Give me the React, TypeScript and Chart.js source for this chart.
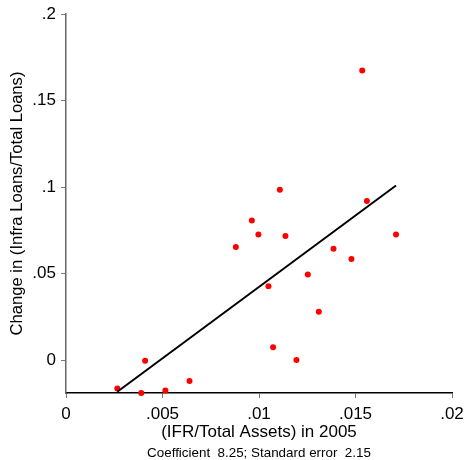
import React, { useEffect, useRef } from "react";
import { Chart, registerables } from "chart.js";

Chart.register(...registerables);

// Scatter points: x = IFR/Total Assets (2005), y = change in infra loans / total loans
const xValues = [
  0.00266, 0.0041, 0.0039, 0.00515, 0.0064, 0.0088, 0.00963, 0.00997, 0.01049,
  0.01073, 0.01108, 0.01137, 0.01194, 0.01253, 0.0131, 0.01386, 0.01479,
  0.01535, 0.01559, 0.0171,
];
const yValues = [
  -0.0164, -0.0004, -0.019, -0.0176, -0.0121, 0.0653, 0.0807, 0.0726, 0.0427,
  0.0075, 0.0984, 0.0717, 0.0, 0.0495, 0.0279, 0.0643, 0.0585, 0.1674, 0.0919,
  0.0726,
];

// Fitted line endpoints
const fitX = [0.00266, 0.0171];
const fitY = [-0.0183, 0.1009];

const xTicks = [0, 0.005, 0.01, 0.015, 0.02];
const xTickLabels = ["0", ".005", ".01", ".015", ".02"];
const yTicks = [0, 0.05, 0.1, 0.15, 0.2];
const yTickLabels = ["0", ".05", ".1", ".15", ".2"];

const xTitle = "(IFR/Total Assets) in 2005";
const yTitle = "Change in (Infra Loans/Total Loans)";
const note = "Coefficient  8.25; Standard error  2.15";

const FONT = "'Liberation Sans', Arial, sans-serif";

export default function App() {
  const ref = useRef<HTMLCanvasElement | null>(null);

  useEffect(() => {
    if (!ref.current) return;
    const notePlugin = {
      id: "note",
      afterDraw(chart: any) {
        const ctx = chart.ctx;
        const xs = chart.scales.x;
        ctx.save();
        ctx.font = `13.4px ${FONT}`;
        ctx.fillStyle = "#000";
        ctx.textAlign = "center";
        ctx.textBaseline = "middle";
        ctx.fillText(note, (xs.left + xs.right) / 2, 453);
        ctx.restore();
      },
    };
    const chart = new Chart(ref.current, {
      type: "scatter",
      data: {
        datasets: [
          {
            type: "scatter",
            data: xValues.map((x, i) => ({ x, y: yValues[i] })),
            backgroundColor: "#ff0000",
            borderColor: "#ff0000",
            pointRadius: 3,
            pointBorderWidth: 0,
            clip: false as any,
            order: 2,
          },
          {
            type: "line",
            data: fitX.map((x, i) => ({ x, y: fitY[i] })),
            borderColor: "#000",
            borderWidth: 2,
            pointRadius: 0,
            showLine: true,
            fill: false,
            clip: false as any,
            order: 1,
          } as any,
        ],
      },
      options: {
        responsive: false,
        animation: false,
        devicePixelRatio: 1,
        layout: { padding: { left: 0, top: 14, right: 13, bottom: 17 } },
        plugins: { legend: { display: false }, tooltip: { enabled: false } },
        scales: {
          x: {
            type: "linear",
            min: 0,
            max: 0.02,
            afterBuildTicks: (s: any) => {
              s.ticks = xTicks.map((v) => ({ value: v }));
            },
            afterFit: (s: any) => {
              s.height = 50;
              s.paddingLeft = 0;
              s.paddingRight = 0;
            },
            ticks: {
              color: "#000",
              font: { family: FONT, size: 17 },
              padding: 6,
              maxRotation: 0,
              autoSkip: false,
              callback: (v: any) => xTickLabels[xTicks.indexOf(Number(v))] ?? "",
            },
            grid: {
              drawOnChartArea: false,
              drawTicks: true,
              tickLength: 5,
              color: "#777",
            },
            border: { display: true, color: "#000", width: 1.5 },
            title: {
              display: true,
              text: xTitle,
              color: "#000",
              font: { family: FONT, size: 17 },
              padding: { top: 0, bottom: 0 },
            },
          },
          y: {
            type: "linear",
            min: -0.019,
            max: 0.2,
            afterBuildTicks: (s: any) => {
              s.ticks = yTicks.map((v) => ({ value: v }));
            },
            afterFit: (s: any) => {
              s.width = 66;
              s.paddingTop = 0;
              s.paddingBottom = 0;
            },
            ticks: {
              color: "#000",
              font: { family: FONT, size: 17 },
              padding: 5,
              autoSkip: false,
              callback: (v: any) => yTickLabels[yTicks.indexOf(Number(v))] ?? "",
            },
            grid: {
              drawOnChartArea: false,
              drawTicks: true,
              tickLength: 5,
              color: "#777",
            },
            border: { display: true, color: "#666", width: 1.5 },
            title: {
              display: true,
              text: yTitle,
              color: "#000",
              font: { family: FONT, size: 16.6 },
              padding: { top: 7, bottom: 0 },
            },
          },
        },
      },
      plugins: [notePlugin],
    });
    return () => chart.destroy();
  }, []);

  return (
    <div
      style={{
        position: "fixed",
        left: 0,
        top: 0,
        width: 465,
        height: 460,
        background: "#fff",
      }}
    >
      <canvas ref={ref} width={465} height={460} style={{ width: 465, height: 460 }} />
    </div>
  );
}
